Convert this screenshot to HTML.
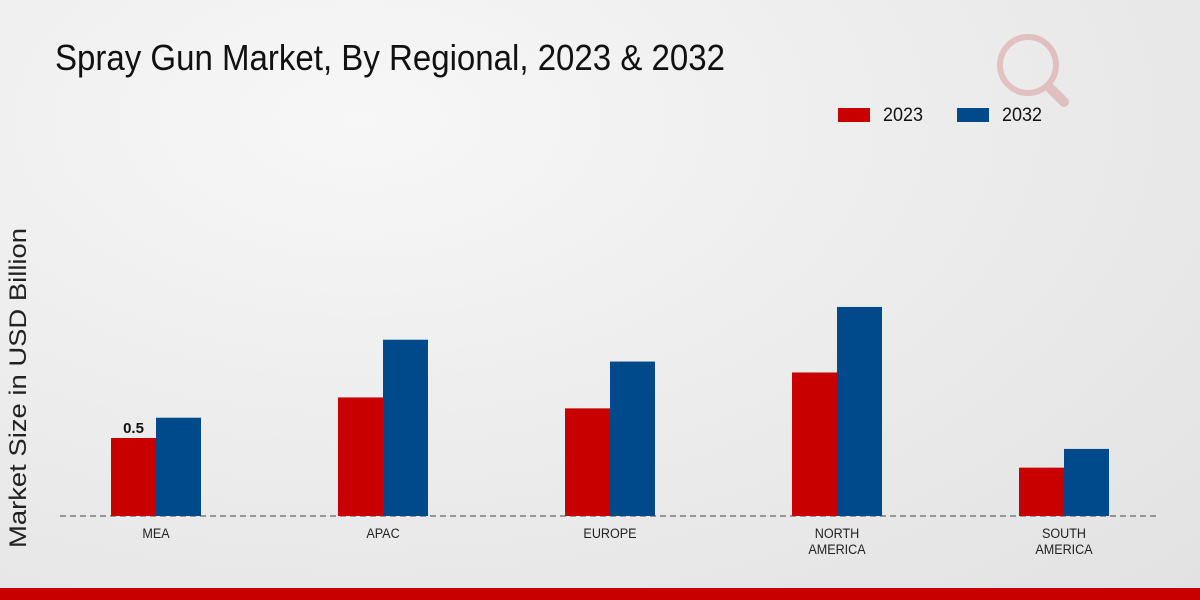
<!DOCTYPE html>
<html><head><meta charset="utf-8"><style>
body{margin:0;width:1200px;height:600px;overflow:hidden;background:radial-gradient(ellipse at 30% 20%,#f7f7f7 0%,#ececec 50%,#e2e2e2 100%);font-family:"Liberation Sans",sans-serif}
svg{position:absolute;left:0;top:0}
</style></head><body>
<svg width="1200" height="600" id="chart">
<text x="55" y="70" font-size="36" textLength="670" lengthAdjust="spacingAndGlyphs" fill="#111">Spray Gun Market, By Regional, 2023 &amp; 2032</text>
<g>
<rect x="838" y="108" width="32" height="14" fill="#c80000"/>
<text x="883" y="121" font-size="19" textLength="40" lengthAdjust="spacingAndGlyphs" fill="#111">2023</text>
<rect x="957" y="108" width="32" height="14" fill="#004a8b"/>
<text x="1002" y="121" font-size="19" textLength="40" lengthAdjust="spacingAndGlyphs" fill="#111">2032</text>
</g>
<g opacity="0.25">
<circle cx="1028" cy="65" r="28" fill="none" stroke="#c44" stroke-width="6"/>
<line x1="1050" y1="88" x2="1064" y2="102" stroke="#c44" stroke-width="10" stroke-linecap="round"/>
</g>
<text transform="translate(26,388) rotate(-90)" text-anchor="middle" font-size="24" textLength="320" lengthAdjust="spacingAndGlyphs" fill="#222">Market Size in USD Billion</text>
<line x1="60" y1="516" x2="1160" y2="516" stroke="#444" stroke-dasharray="6,4"/>
<g id="bars"></g>
<rect x="0" y="588" width="1200" height="12" fill="#c80000"/>
</svg>
<script>
const categories=[["MEA"],["APAC"],["EUROPE"],["NORTH","AMERICA"],["SOUTH","AMERICA"]];
const values2023=[0.5,0.76,0.69,0.92,0.31];
const values2032=[0.63,1.13,0.99,1.34,0.43];
const ns="http://www.w3.org/2000/svg";
const g=document.getElementById('bars');
const base=516,scale=156,x0=156,step=227,bw=45;
const y=v=>base-v*scale;
const xc=i=>x0+i*step;
function mk(t,a){const e=document.createElementNS(ns,t);for(const k in a)e.setAttribute(k,a[k]);g.appendChild(e);return e;}
categories.forEach((c,i)=>{
 const r=mk('rect',{x:xc(i)-bw,y:y(values2023[i]),width:bw,height:values2023[i]*scale,fill:'#c80000'});
 
 
 const b=mk('rect',{x:xc(i),y:y(values2032[i]),width:bw,height:values2032[i]*scale,fill:'#004a8b'});
 
 
 c.forEach((line,j)=>{
  const t=mk('text',{x:xc(i),y:538+j*16,'text-anchor':'middle','font-size':14,fill:'#222',transform:'translate('+xc(i)+',0) scale(0.9,1) translate('+(-xc(i))+',0)'});
  t.textContent=line;
  
  
 });
});
const lbl=mk('text',{x:xc(0)-bw/2,y:y(values2023[0])-5,'text-anchor':'middle','font-size':15,'font-weight':'bold',fill:'#111'});
lbl.textContent=values2023[0];


</script>
</body></html>
